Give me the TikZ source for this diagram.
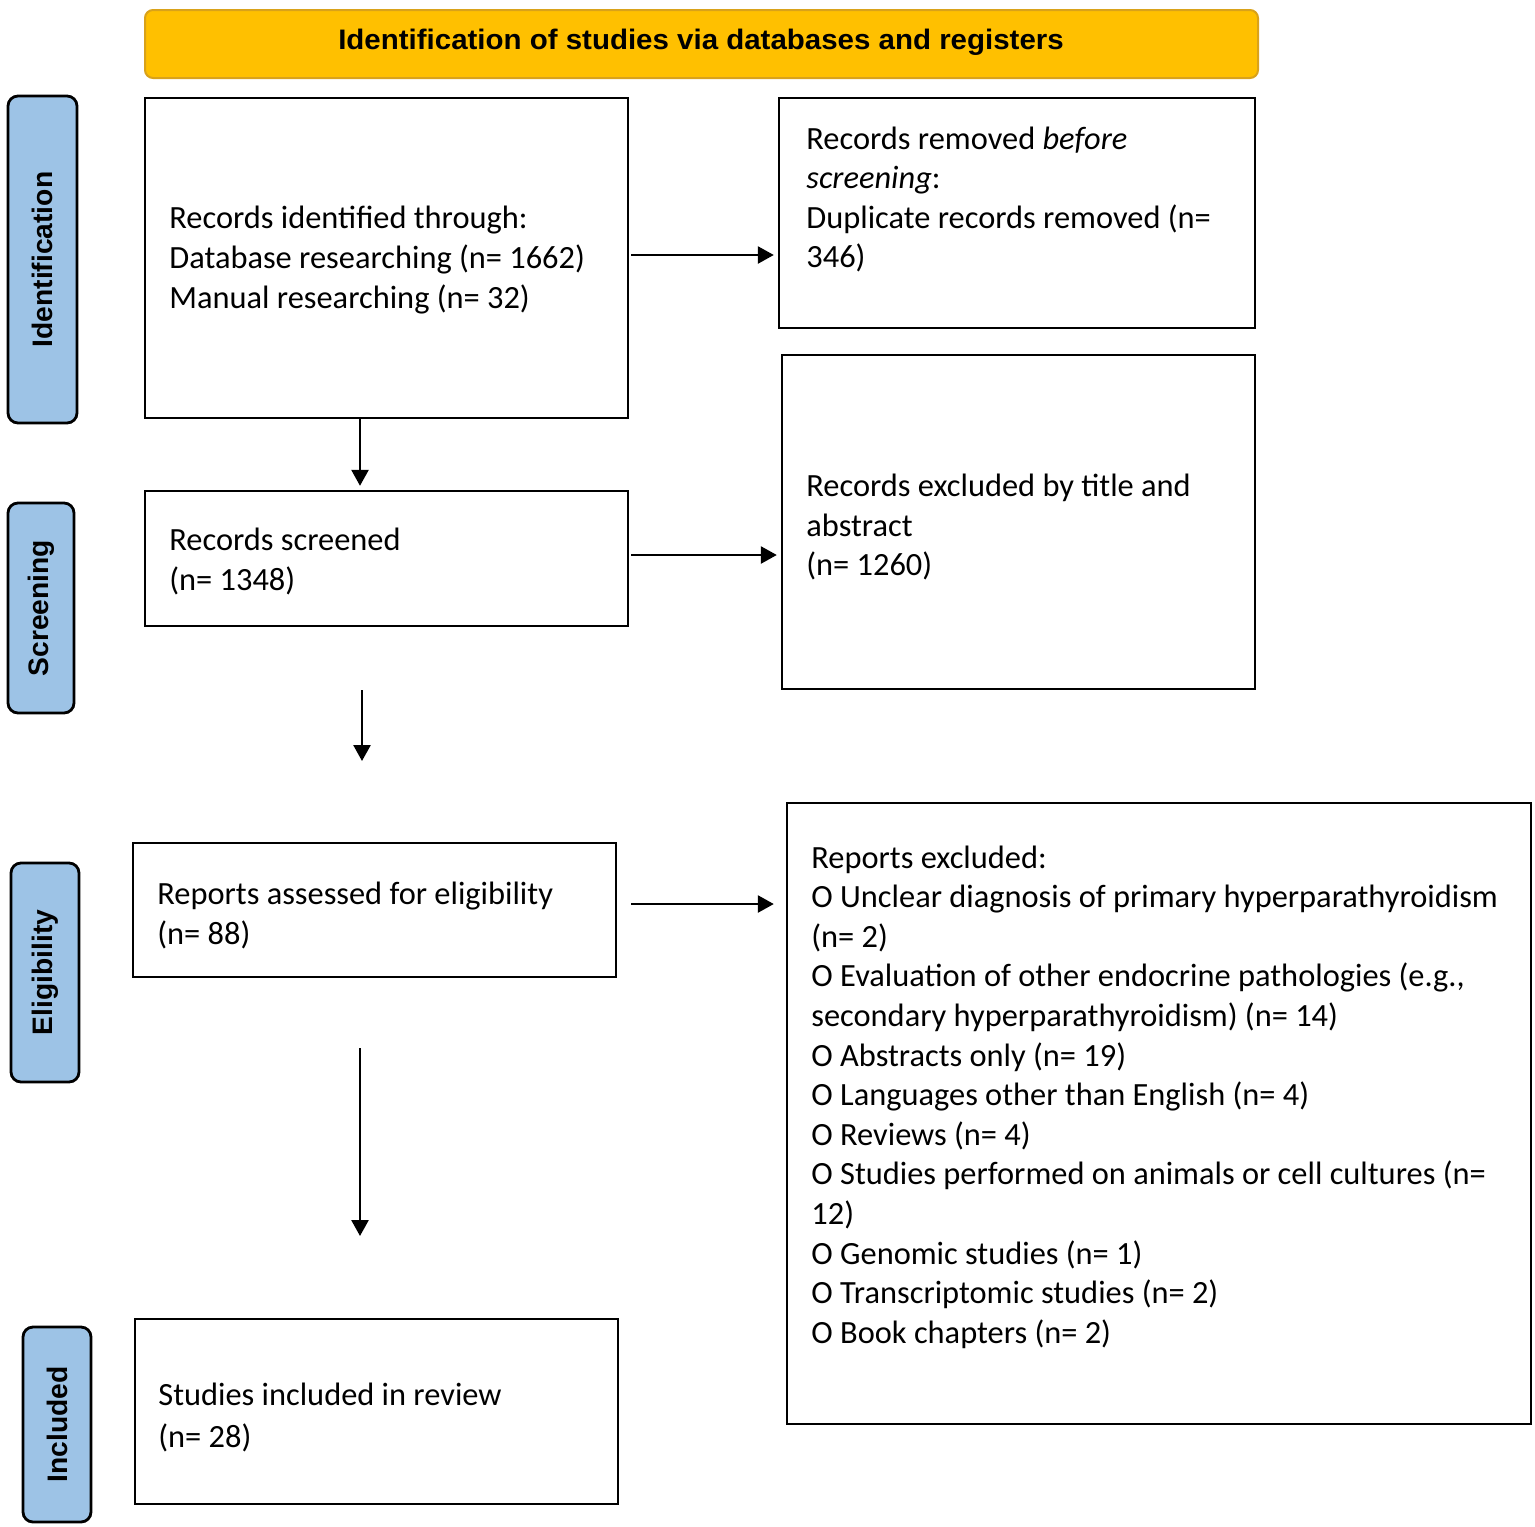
\documentclass[tikz,border=0pt]{standalone}
\usepackage{fontspec}
\setmainfont{Carlito}
\newfontfamily\arialfont{Liberation Sans}
\usetikzlibrary{arrows.meta}
\definecolor{bannerfill}{HTML}{FFC000}
\definecolor{bannerdraw}{HTML}{D9A21A}
\definecolor{sidefill}{HTML}{9DC3E6}
\tikzset{
  box/.style={draw=black, line width=1.2pt, rectangle, inner sep=0pt},
  txt/.style={anchor=west, align=left, inner sep=0pt, font=\fontsize{16.2pt}{19.8pt}\selectfont},
  side/.style={draw=black, line width=1.4pt, fill=sidefill, rounded corners=5pt, rotate=90,
    inner sep=0pt, font=\arialfont\bfseries\fontsize{14.1pt}{16pt}\selectfont},
  arr/.style={line width=1.3pt, shorten >=2pt, -{Triangle[length=8pt,width=8.5pt]}}
}
\begin{document}
\begin{tikzpicture}[x=0.5pt,y=-0.5pt]
\useasboundingbox (0,0) rectangle (1535,1526);
% banner
\node[draw=bannerdraw, line width=1pt, fill=bannerfill, rounded corners=4pt,
  minimum width=556.5pt, minimum height=34pt, inner sep=0pt] (banner) at (701.5,44) {};
\node[font=\arialfont\bfseries\fontsize{14.1pt}{16pt}\selectfont, inner sep=0pt] (bannertext) at (701,42)
  {\scalebox{1.045}[1]{Identification of studies via databases and registers}};
% side labels
\node[side, minimum width=163.5pt, minimum height=34.5pt] (sid) at (42.5,259.5) {Identification};
\node[side, minimum width=105pt, minimum height=33pt] (sscr) at (41,608) {Screening};
\node[side, minimum width=109.5pt, minimum height=34pt] (selig) at (45,972.5) {Eligibility};
\node[side, minimum width=97.5pt, minimum height=34pt] (sinc) at (57,1424.5) {Included};
% boxes
\node[box, minimum width=241.5pt, minimum height=160pt] (b1) at (386.5,258) {};
\node[txt] (t1) at (169,260) {Records identified through:\\Database researching (n= 1662)\\Manual researching (n= 32)};
\node[box, minimum width=238pt, minimum height=115pt] (b2) at (1017,213) {};
\node[txt] (t2) at (806,199.5) {Records removed \textit{before}\\\textit{screening}:\\Duplicate records removed (n=\\346)};
\node[box, minimum width=241.5pt, minimum height=67.5pt] (b3) at (386.5,558.5) {};
\node[txt] (t3) at (169,561.5) {Records screened\\(n= 1348)};
\node[box, minimum width=236.5pt, minimum height=167pt] (b4) at (1018.5,522) {};
\node[txt] (t4) at (806,527) {Records excluded by title and\\abstract\\(n= 1260)};
\node[box, minimum width=241.5pt, minimum height=67pt] (b5) at (374.5,910) {};
\node[txt] (t5) at (157,915.5) {Reports assessed for eligibility\\(n= 88)};
\node[box, minimum width=372pt, minimum height=310.5pt] (b6) at (1159,1113.5) {};
\node[txt] (t6) at (811,1097) {Reports excluded:\\
O Unclear diagnosis of primary hyperparathyroidism\\
(n= 2)\\
O Evaluation of other endocrine pathologies (e.g.,\\
secondary hyperparathyroidism) (n= 14)\\
O Abstracts only (n= 19)\\
O Languages other than English (n= 4)\\
O Reviews (n= 4)\\
O Studies performed on animals or cell cultures (n=\\
12)\\
O Genomic studies (n= 1)\\
O Transcriptomic studies (n= 2)\\
O Book chapters (n= 2)};
\node[box, minimum width=241.5pt, minimum height=92.5pt] (b7) at (376.5,1411.5) {};
\node[txt, font=\fontsize{16.2pt}{21pt}\selectfont] (t7) at (158,1417) {Studies included in review\\(n= 28)};
% arrows
\coordinate (a1s) at (631,255);
\coordinate (a2s) at (360,418);
\coordinate (a3s) at (631,555);
\coordinate (a4s) at (362,690);
\coordinate (a4e) at (362,765);
\coordinate (a5s) at (631,904);
\coordinate (a6s) at (360,1048);
\coordinate (a6e) at (360,1240);
\draw[arr] (a1s) -- (a1s -| b2.west);
\draw[arr] (a2s) -- (a2s |- b3.north);
\draw[arr] (a3s) -- (a3s -| b4.west);
\draw[arr] (a4s) -- (a4e);
\draw[arr, shorten >=6pt] (a5s) -- (a5s -| b6.west);
\draw[arr] (a6s) -- (a6e);
\end{tikzpicture}
\end{document}
